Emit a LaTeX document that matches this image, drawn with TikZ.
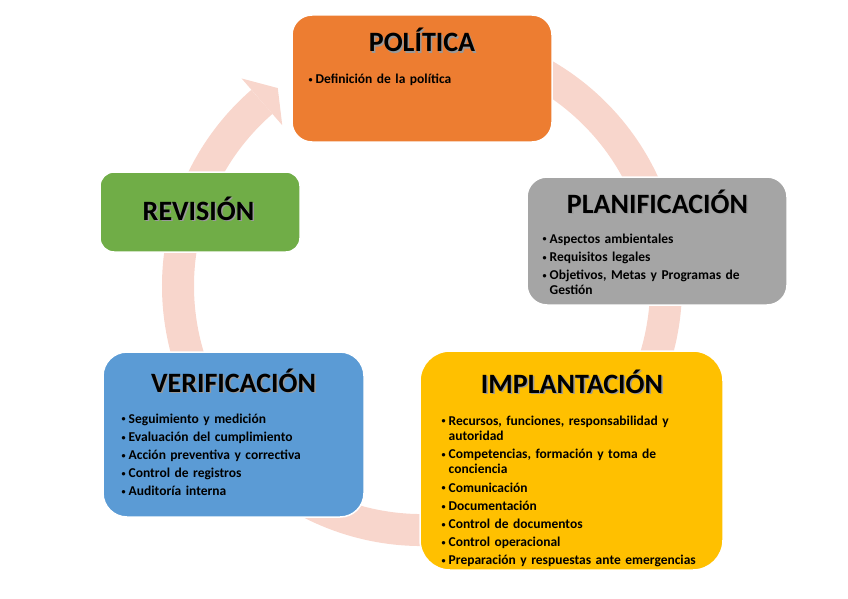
\documentclass[tikz,border=0pt]{standalone}
\usepackage{graphicx}
\usepackage{fontspec}
\setmainfont{Carlito}
\usetikzlibrary{calc}

\definecolor{ringcol}{RGB}{248,214,204}
\definecolor{polcol}{HTML}{ED7D31}
\definecolor{plancol}{HTML}{A5A5A5}
\definecolor{implcol}{HTML}{FFC000}
\definecolor{verifcol}{HTML}{5B9BD5}
\definecolor{revcol}{HTML}{70AD47}

\newcommand{\shd}[1]{\makebox[0pt][l]{\hspace{1.5pt}\raisebox{-1.5pt}{\textcolor{black!40}{#1}}}#1}
\newcommand{\itm}[1]{\hangindent=7pt\hangafter=1\makebox[7pt][l]{\raisebox{1.2pt}{\scalebox{0.6}{\textbullet}}}#1\par\vspace{2.9pt}}

\begin{document}
\begin{tikzpicture}[x=1pt,y=1pt,
		box/.style={rectangle, rounded corners=20pt, draw=white, line width=1.5pt, inner sep=0pt},
		ttl/.style={font=\fontsize{28}{32}\selectfont\bfseries, anchor=base, inner sep=0pt},
		lst/.style={font=\fontsize{13.5}{15.3}\selectfont\bfseries, anchor=base west, inner sep=0pt, text width=300pt}]
		\useasboundingbox (0,0) rectangle (848,-599);

		% Ring with arrow head
		\coordinate (ctr) at (422,-286);
		\draw[ringcol, line width=32pt] ($(ctr)+(100:244pt)$) arc[start angle=100, end angle=-229, radius=244pt];
		\fill[ringcol] ($(ctr)+(131:275pt)$) -- ($(ctr)+(131:244pt)+(41:21pt)$) -- ($(ctr)+(131:213pt)$) -- cycle;

		% Politica
		\node[box, fill=polcol, minimum width=260pt, minimum height=127pt] (pol) at (422,-78.5) {};
		\node[ttl] (polT) at (422,-52) {\shd{POLÍTICA}};
		\node[lst] (polL) at (308.5,-84) {\itm{Definición de la política}};

		% Planificacion
		\node[box, fill=plancol, minimum width=260pt, minimum height=128pt] (plan) at (657,-241) {};
		\node[ttl] (planT) at (657.5,-213) {\shd{PLANIFICACIÓN}};
		\node[lst] (planL) at (542.5,-243) {\itm{Aspectos ambientales}\itm{Requisitos legales}\itm{Objetivos, Metas y Programas de\newline Gestión}};

		% Implantacion
		\node[box, fill=implcol, rounded corners=30pt, minimum width=303pt, minimum height=219pt] (impl) at (571.5,-460.5) {};
		\node[ttl] (implT) at (572,-393) {\shd{IMPLANTACIÓN}};
		\node[lst] (implL) at (441.5,-425) {\itm{Recursos, funciones, responsabilidad y\newline autoridad}\itm{Competencias, formación y toma de\newline conciencia}\itm{Comunicación}\itm{Documentación}\itm{Control de documentos}\itm{Control operacional}\itm{Preparación y respuestas ante emergencias}};

		% Verificacion
		\node[box, fill=verifcol, rounded corners=24pt, minimum width=261pt, minimum height=165pt] (verif) at (233.5,-434.5) {};
		\node[ttl] (verifT) at (233.5,-392) {\shd{VERIFICACIÓN}};
		\node[lst] (verifL) at (121.5,-423) {\itm{Seguimiento y medición}\itm{Evaluación del cumplimiento}\itm{Acción preventiva y correctiva}\itm{Control de registros}\itm{Auditoría interna}};

		% Revision
		\node[box, fill=revcol, rounded corners=14pt, minimum width=200pt, minimum height=80pt] (rev) at (200,-212) {};
		\node[ttl] (revT) at (198.5,-220) {\shd{REVISIÓN}};

	\end{tikzpicture}
\end{document}
